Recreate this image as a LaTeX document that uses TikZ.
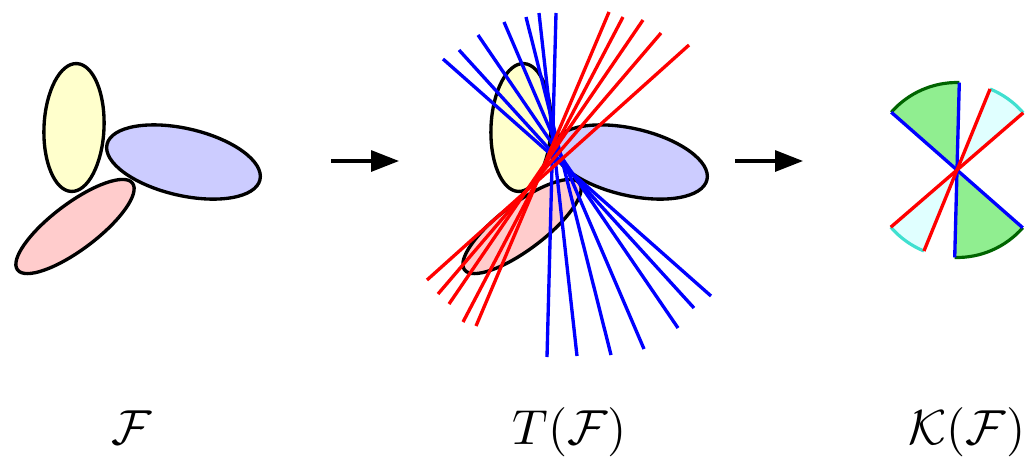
\documentclass[tikz,border=0pt]{standalone}
\usepackage{amsmath}
\usepackage{amssymb}
\usetikzlibrary{arrows.meta}
\definecolor{famYellow}{HTML}{FFFFCC}
\definecolor{famBlue}{HTML}{CCCCFF}
\definecolor{famRed}{HTML}{FFCCCC}
\definecolor{coneGreen}{HTML}{90EE90}
\definecolor{coneDark}{HTML}{006400}
\definecolor{coneCyan}{HTML}{E0FFFF}
\definecolor{coneTurq}{HTML}{40E0D0}
\begin{document}
\begin{tikzpicture}[x=0.02cm, y=0.02cm,
  oval/.style={draw=black, line width=1.9pt},
  trans/.style={line width=1.9pt},
  arr/.style={-{Triangle[length=5.6mm,width=4.2mm]}, line width=1.8pt},
  rim/.style={line width=1.8pt},
  lbl/.style={anchor=base, scale=2.8, inner sep=0pt}
]
\useasboundingbox (0,0) rectangle (1030,-457);
% the family F, drawn twice
\foreach \dx in {0,447}{
  \filldraw[oval, fill=famYellow, rotate around={-2.5:(74+\dx,-127.5)}]
    (74+\dx,-127.5) ellipse[x radius=30, y radius=64];
  \filldraw[oval, fill=famBlue, rotate around={-13:(183.5+\dx,-162)}]
    (183.5+\dx,-162) ellipse[x radius=78.5, y radius=33.5];
  \filldraw[oval, fill=famRed, rotate around={37:(75+\dx,-226.5)}]
    (75+\dx,-226.5) ellipse[x radius=72, y radius=23];
}
% transversals
\foreach \xa/\ya/\xb/\yb in {443/59/711/296, 459/50/694/308, 478/35/678/328,
    504/22/644/349, 526/17/611/355, 539/13/577/356, 556/13/547/357}
  \draw[trans, blue] (\xa,-\ya) -- (\xb,-\yb);
\foreach \xa/\ya/\xb/\yb in {609/12/476/326, 623/17/463/322, 643/20/449/304,
    661/33/438/294, 689/45/427/280}
  \draw[trans, red] (\xa,-\ya) -- (\xb,-\yb);
% the cone K(F)
\coordinate (cone) at (957,-170);
\foreach \a/\b/\fc/\rc in {88.5/138.7/coneGreen/coneDark, 268.5/318.7/coneGreen/coneDark,
    40.8/67.8/coneCyan/coneTurq, 220.8/247.8/coneCyan/coneTurq}{
  \fill[\fc] (cone) -- ([shift={(\a:87.5)}]cone)
    arc[start angle=\a, end angle=\b, radius=87.5] -- cycle;
  \draw[rim, \rc] ([shift={(\a:87.5)}]cone) arc[start angle=\a, end angle=\b, radius=87.5];
}
\draw[trans, blue] ([shift={(88.5:87.5)}]cone) -- ([shift={(268.5:87.5)}]cone);
\draw[trans, blue] ([shift={(138.7:87.5)}]cone) -- ([shift={(318.7:87.5)}]cone);
\draw[trans, red] ([shift={(67.8:87.5)}]cone) -- ([shift={(247.8:87.5)}]cone);
\draw[trans, red] ([shift={(40.8:87.5)}]cone) -- ([shift={(220.8:87.5)}]cone);
% arrows between the panels
\coordinate (a1s) at (331,-161);
\coordinate (a1e) at (399,-161);
\coordinate (a2s) at (735,-161);
\coordinate (a2e) at (803,-161);
\draw[arr] (a1s) -- (a1e);
\draw[arr] (a2s) -- (a2e);
% labels
\node[lbl] (famF) at (132,-444) {$\mathcal{F}$};
\node[lbl] (famT) at (570,-444) {$T(\mathcal{F})$};
\node[lbl] (famK) at (967,-444) {$\mathcal{K}(\mathcal{F})$};
\end{tikzpicture}
\end{document}
